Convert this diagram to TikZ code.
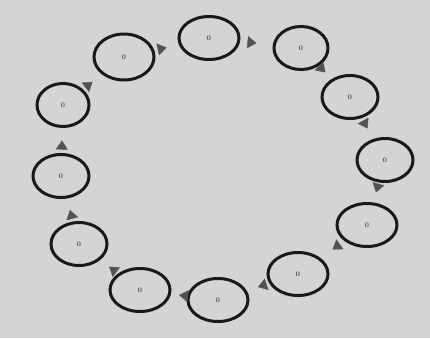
\documentclass[tikz,border=0pt]{standalone}
\usetikzlibrary{arrows.meta,decorations.markings,shapes.geometric}
\definecolor{paper}{RGB}{214,212,210}
\definecolor{blob}{RGB}{85,83,82}
\tikzset{
  ring/.style={draw=black!90,line width=3pt,ellipse,minimum width=#1,minimum height=43pt,inner sep=0pt,font=\scriptsize\bfseries,text=black!70},
  ring/.default=56pt,
  step arrow/.style={decoration={markings,mark=at position 0.5 with {\arrow[blob]{Triangle[width=12pt,length=9pt]}}},postaction=decorate}
}
\begin{document}
\begin{tikzpicture}[x=1pt,y=-1pt]
  \fill[paper] (0,0) rectangle (430,338);
  \useasboundingbox (0,0) rectangle (430,338);
  % the ring of cells
  \node[ring=60pt] (c1) at (209,38) {0};
  \node[ring=54pt] (c2) at (301,48) {0};
  \node[ring=56pt] (c3) at (350,97) {0};
  \node[ring=56pt] (c4) at (385,160) {0};
  \node[ring=60pt] (c5) at (367,225) {0};
  \node[ring=60pt] (c6) at (298,274) {0};
  \node[ring=60pt] (c7) at (218,300) {0};
  \node[ring=60pt] (c8) at (140,290) {0};
  \node[ring=56pt] (c9) at (79,244) {0};
  \node[ring=56pt] (c10) at (61,176) {0};
  \node[ring=52pt] (c11) at (63,105) {0};
  \node[ring=60pt,minimum height=46pt] (c12) at (124,57) {0};
  % arrows between them
  \foreach \a/\b in {c12/c1,c1/c2,c2/c3,c3/c4,c4/c5,c5/c6,c6/c7,c7/c8,c8/c9,c9/c10,c10/c11,c11/c12}
    \path[step arrow] (\a) -- (\b);
\end{tikzpicture}
\end{document}
